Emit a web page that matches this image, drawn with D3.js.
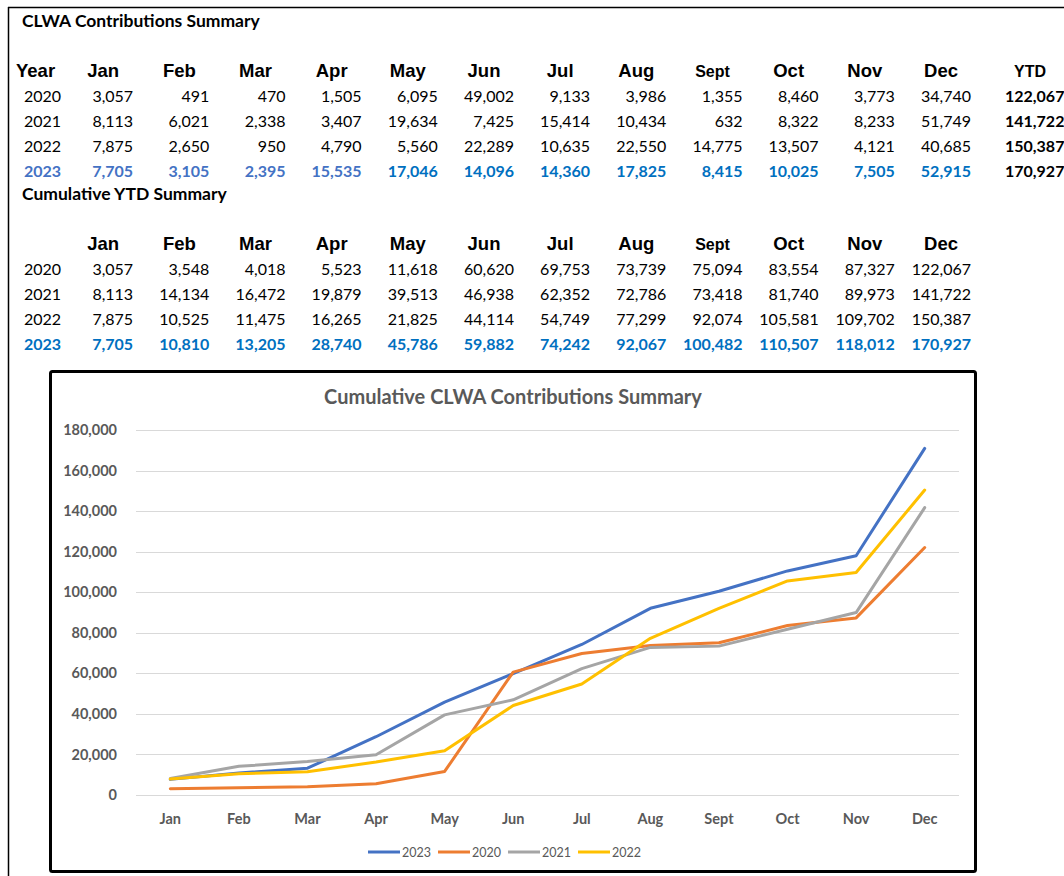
<!DOCTYPE html>
<html lang="en">
<head>
    <meta charset="UTF-8">
    <title>CLWA Contributions Summary</title>
    <script src="https://cdn.jsdelivr.net/npm/d3@7"></script>
    <style>
        body { margin: 0; background: #fff; }
        svg { display: block; }
        .num { font-family: Lato, "Open Sans", sans-serif; font-size: 16px; }
        .hdr { font-family: "Liberation Sans", Arial, sans-serif; font-size: 18.5px; font-weight: bold; }
        .ttl { font-family: Lato, sans-serif; font-size: 17.5px; font-weight: bold; }
        .axis text { font-family: Lato, sans-serif; font-weight: bold; fill: #595959; font-size: 14.5px; }
    </style>
</head>
<body>
<svg id="page" width="1064" height="876"></svg>
<script>
    const months = ["Jan", "Feb", "Mar", "Apr", "May", "Jun", "Jul", "Aug", "Sept", "Oct", "Nov", "Dec"];
    const years = ["2020", "2021", "2022", "2023"];

    // monthly contributions
    const monthly2020 = [3057, 491, 470, 1505, 6095, 49002, 9133, 3986, 1355, 8460, 3773, 34740];
    const monthly2021 = [8113, 6021, 2338, 3407, 19634, 7425, 15414, 10434, 632, 8322, 8233, 51749];
    const monthly2022 = [7875, 2650, 950, 4790, 5560, 22289, 10635, 22550, 14775, 13507, 4121, 40685];
    const monthly2023 = [7705, 3105, 2395, 15535, 17046, 14096, 14360, 17825, 8415, 10025, 7505, 52915];
    const ytdTotals = [122067, 141722, 150387, 170927];

    // cumulative YTD
    const cum2020 = [3057, 3548, 4018, 5523, 11618, 60620, 69753, 73739, 75094, 83554, 87327, 122067];
    const cum2021 = [8113, 14134, 16472, 19879, 39513, 46938, 62352, 72786, 73418, 81740, 89973, 141722];
    const cum2022 = [7875, 10525, 11475, 16265, 21825, 44114, 54749, 77299, 92074, 105581, 109702, 150387];
    const cum2023 = [7705, 10810, 13205, 28740, 45786, 59882, 74242, 92067, 100482, 110507, 118012, 170927];

    const legendOrder = ["2023", "2020", "2021", "2022"];
    const yTicks = [0, 20000, 40000, 60000, 80000, 100000, 120000, 140000, 160000, 180000];

    const colors = { "2020": "#ED7D31", "2021": "#A5A5A5", "2022": "#FFC000", "2023": "#4472C4" };
    const fmt = d3.format(",");
    const svg = d3.select("#page");

    // sheet border lines
    svg.append("line").attr("x1", 8).attr("x2", 1064).attr("y1", 7.5).attr("y2", 7.5)
        .attr("stroke", "#000").attr("stroke-width", 1.5);
    svg.append("line").attr("x1", 8.5).attr("x2", 8.5).attr("y1", 7).attr("y2", 876)
        .attr("stroke", "#000").attr("stroke-width", 1.5);

    // table columns
    const col = d3.scaleBand().domain(months).range([57, 971]);
    const colRight = m => col(m) + col.bandwidth();

    function drawTable(top, title, rows, withYear, withYtd, blueFor) {
        svg.append("text").attr("class", "ttl").attr("x", 22).attr("y", top)
            .text(title);

        const hy = top + 50;
        if (withYear) {
            svg.append("text").attr("class", "hdr").attr("x", 16).attr("y", hy).text("Year");
        }
        svg.selectAll(null).data(months).enter().append("text")
            .attr("class", "hdr")
            .attr("x", d => colRight(d) - 30)
            .attr("y", hy)
            .attr("text-anchor", "middle")
            .style("font-size", d => d.length > 3 ? "16px" : null)
            .text(d => d);
        if (withYtd) {
            svg.append("text").attr("class", "hdr").attr("x", 1030).attr("y", hy)
                .attr("text-anchor", "middle").style("font-size", "16px").text("YTD");
        }

        rows.forEach((vals, r) => {
            const y = hy + 25 * (r + 1);
            const isBlue = years[r] === "2023";
            const g = svg.append("g").attr("class", "num")
                .style("font-weight", isBlue ? "bold" : null);
            g.append("text").attr("x", 24).attr("y", y)
                .attr("fill", isBlue ? blueFor(-1) : "#000")
                .text(years[r]);
            g.selectAll(null).data(vals).enter().append("text")
                .attr("x", (d, i) => colRight(months[i]))
                .attr("y", y)
                .attr("text-anchor", "end")
                .attr("fill", (d, i) => isBlue ? blueFor(i) : "#000")
                .text(d => fmt(d));
            if (withYtd) {
                g.append("text").attr("x", 1005).attr("y", y)
                    .style("font-weight", "bold").attr("fill", "#000")
                    .text(fmt(ytdTotals[r]));
            }
        });
    }

    drawTable(27, "CLWA Contributions Summary",
        [monthly2020, monthly2021, monthly2022, monthly2023], true, true,
        i => i < 4 ? "#4472C4" : "#0070C0");
    drawTable(200, "Cumulative YTD Summary",
        [cum2020, cum2021, cum2022, cum2023], false, false,
        i => "#0070C0");

    // chart frame
    svg.append("rect").attr("x", 50.5).attr("y", 371.5).attr("width", 925).attr("height", 500)
        .attr("rx", 2).attr("fill", "#fff").attr("stroke", "#000").attr("stroke-width", 3);

    svg.append("text").attr("x", 513).attr("y", 404).attr("text-anchor", "middle")
        .style("font-family", "Lato, sans-serif").style("font-weight", "bold")
        .style("font-size", "20px").attr("fill", "#595959")
        .text("Cumulative CLWA Contributions Summary");

    const x = d3.scaleBand().domain(months).range([136, 959]);
    const y = d3.scaleLinear().domain([0, 180000]).range([795, 430]);

    svg.append("g").attr("class", "grid")
        .selectAll("line").data(yTicks).enter().append("line")
        .attr("x1", 136).attr("x2", 959)
        .attr("y1", d => Math.round(y(d)) + 0.5).attr("y2", d => Math.round(y(d)) + 0.5)
        .attr("stroke", "#D9D9D9").attr("stroke-width", 1);

    const yAxis = svg.append("g").attr("class", "axis")
        .attr("transform", "translate(136,0)")
        .call(d3.axisLeft(y).tickValues(yTicks).tickFormat(fmt).tickSize(0).tickPadding(19));
    yAxis.select(".domain").remove();

    const xAxis = svg.append("g").attr("class", "axis")
        .attr("transform", "translate(0,795)")
        .call(d3.axisBottom(x).tickSize(0).tickPadding(19));
    xAxis.select(".domain").remove();

    const seriesData = { "2020": cum2020, "2021": cum2021, "2022": cum2022, "2023": cum2023 };
    const line = d3.line()
        .x((d, i) => x(months[i]) + x.bandwidth() / 2)
        .y(d => y(d));

    svg.append("g").selectAll("path").data(legendOrder).enter().append("path")
        .attr("d", d => line(seriesData[d]))
        .attr("fill", "none")
        .attr("stroke", d => colors[d])
        .attr("stroke-width", 3)
        .attr("stroke-linejoin", "round")
        .attr("stroke-linecap", "round");

    // legend
    const lg = svg.append("g").selectAll("g").data(legendOrder).enter().append("g")
        .attr("transform", (d, i) => `translate(${368 + i * 70},852)`);
    lg.append("line").attr("x1", 0).attr("x2", 32).attr("y1", 0).attr("y2", 0)
        .attr("stroke", d => colors[d]).attr("stroke-width", 3);
    lg.append("text").attr("x", 34).attr("y", 4.5)
        .style("font-family", "Lato, sans-serif").style("font-size", "12.5px")
        .attr("fill", "#595959").text(d => d);
</script>
</body>
</html>
